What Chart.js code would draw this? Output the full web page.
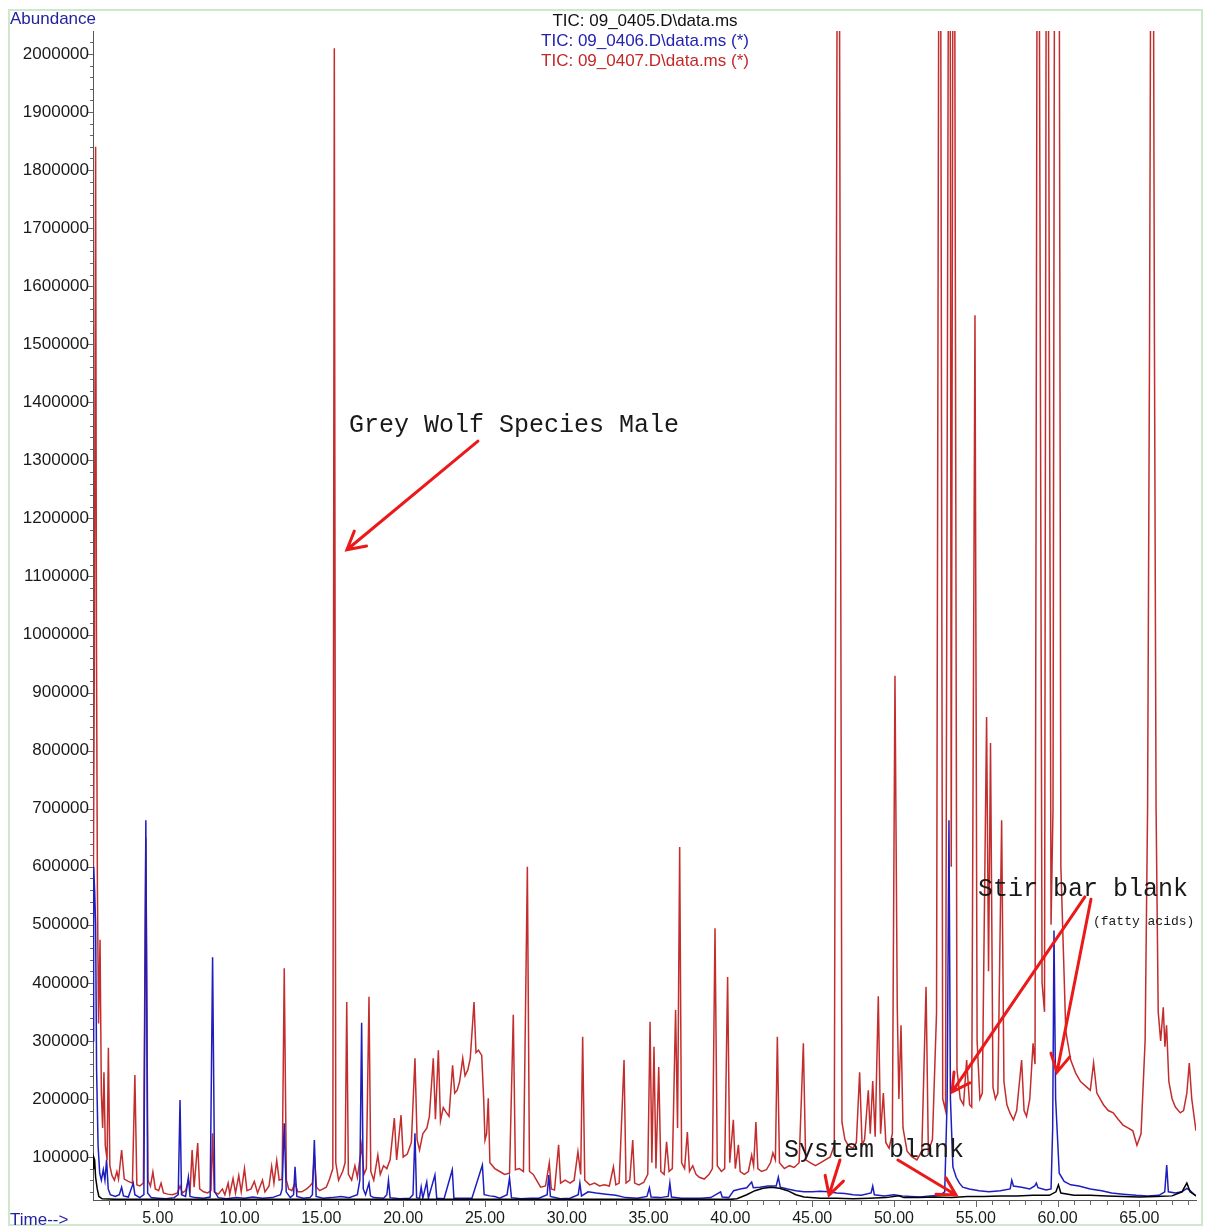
<!DOCTYPE html>
<html>
<head>
<meta charset="utf-8">
<script src="https://cdn.jsdelivr.net/npm/chart.js@4.4.1/dist/chart.umd.min.js"></script>
<style>
  html, body { margin: 0; padding: 0; background: #fff; }
  canvas { display: block; }
</style>
</head>
<body>
<canvas id="tic-chart" width="1208" height="1228"></canvas>
<script>
// Retention time (min) and abundance
const redTime = [
  1.04, 1.12, 1.20, 1.25, 1.31, 1.38, 1.47, 1.55, 1.63, 1.71, 1.79, 1.90, 1.98, 2.07, 2.2, 2.35, 2.5, 2.6, 2.79, 2.95,
  3.2, 3.45, 3.60, 3.72, 3.9, 4.12, 4.27, 4.40, 4.55, 4.70, 4.85, 5.05, 5.20, 5.35, 5.6, 5.9, 6.2, 6.36, 6.5, 6.7,
  6.87, 6.98, 7.10, 7.22, 7.44, 7.56, 7.8, 8.05, 8.25, 8.35, 8.45, 8.7, 8.95, 9.1, 9.30, 9.4, 9.60, 9.75, 9.95, 10.1,
  10.3, 10.45, 10.7, 10.9, 11.1, 11.4, 11.55, 11.8, 11.96, 12.1, 12.27, 12.42, 12.6, 12.73, 12.86, 13.0, 13.2, 13.39, 13.55, 13.8,
  14.1, 14.3, 14.45, 14.57, 14.7, 14.9, 15.1, 15.3, 15.5, 15.7, 15.79, 15.88, 16.05, 16.3, 16.45, 16.55, 16.65, 16.85, 17.05, 17.2,
  17.35, 17.46, 17.6, 17.75, 17.91, 18.02, 18.2, 18.45, 18.6, 18.8, 19.0, 19.2, 19.46, 19.6, 19.87, 20.0, 20.25, 20.5, 20.72, 20.85,
  21.0, 21.2, 21.45, 21.6, 21.84, 21.97, 22.15, 22.28, 22.45, 22.6, 22.8, 23.02, 23.15, 23.3, 23.45, 23.64, 23.78, 23.95, 24.1, 24.33,
  24.45, 24.6, 24.8, 24.92, 25.0, 25.1, 25.2, 25.3, 25.6, 25.9, 26.2, 26.5, 26.73, 26.86, 27.1, 27.35, 27.59, 27.72, 27.95, 28.15,
  28.4, 28.7, 28.93, 29.05, 29.25, 29.5, 29.62, 29.9, 30.2, 30.45, 30.68, 30.85, 30.97, 31.1, 31.4, 31.7, 32.0, 32.3, 32.6, 32.85,
  33.0, 33.2, 33.5, 33.62, 33.85, 34.03, 34.15, 34.4, 34.7, 34.95, 35.09, 35.2, 35.33, 35.45, 35.62, 35.75, 35.95, 36.1, 36.25, 36.45,
  36.65, 36.77, 36.9, 37.02, 37.2, 37.37, 37.5, 37.7, 37.9, 38.1, 38.4, 38.7, 38.9, 39.06, 39.2, 39.45, 39.65, 39.83, 39.96, 40.18,
  40.3, 40.49, 40.6, 40.85, 41.1, 41.3, 41.42, 41.56, 41.68, 41.9, 42.2, 42.45, 42.6, 42.75, 42.87, 43.0, 43.3, 43.6, 43.9, 44.2,
  44.46, 44.6, 44.9, 45.2, 45.5, 45.8, 46.1, 46.35, 46.6, 46.82, 47.0, 47.2, 47.5, 47.7, 47.9, 48.05, 48.2, 48.43, 48.55, 48.7,
  48.85, 49.04, 49.18, 49.35, 49.5, 49.7, 49.9, 50.06, 50.2, 50.3, 50.43, 50.55, 50.8, 51.1, 51.4, 51.7, 51.96, 52.1, 52.35, 52.6,
  52.8, 52.98, 53.15, 53.4, 53.5, 53.65, 53.85, 54.05, 54.25, 54.44, 54.62, 54.75, 54.95, 55.08, 55.25, 55.4, 55.66, 55.78, 55.9, 56.05,
  56.2, 56.35, 56.58, 56.72, 56.9, 57.1, 57.3, 57.5, 57.8, 57.95, 58.1, 58.3, 58.5, 58.62, 58.8, 59.05, 59.2, 59.35, 59.6, 59.72,
  59.86, 59.95, 60.05, 60.2, 60.5, 60.8, 61.1, 61.4, 61.8, 62.0, 62.2, 62.4, 62.8, 63.1, 63.4, 63.7, 64.0, 64.3, 64.6, 64.85,
  65.1, 65.35, 65.5, 65.62, 65.78, 65.92, 66.02, 66.15, 66.3, 66.46, 66.56, 66.66, 66.8, 67.0, 67.2, 67.5, 67.7, 67.9, 68.05, 68.2,
  68.46
];
const redAbund = [
  420000, 950000, 1840000, 1000000, 560000, 330000, 474000, 210000, 150000, 246000, 120000, 95000, 288000, 85000, 68000, 60000, 75000, 62000, 112000, 62000,
  58000, 55000, 241000, 52000, 50000, 55000, 650000, 60000, 50000, 74000, 45000, 42000, 55000, 38000, 36000, 35000, 38000, 50000, 38000, 42000,
  60000, 45000, 112000, 48000, 124000, 45000, 40000, 38000, 42000, 141000, 40000, 36000, 45000, 35000, 55000, 36000, 63000, 38000, 68000, 40000,
  80000, 42000, 45000, 58000, 38000, 60000, 40000, 50000, 84000, 55000, 94000, 60000, 62000, 425000, 60000, 45000, 42000, 55000, 40000, 40000,
  45000, 50000, 55000, 103000, 48000, 42000, 45000, 48000, 62000, 80000, 2010000, 90000, 60000, 75000, 90000, 367000, 70000, 60000, 85000, 65000,
  95000, 120000, 70000, 80000, 376000, 75000, 60000, 103000, 70000, 85000, 80000, 95000, 167000, 95000, 172000, 100000, 105000, 125000, 270000, 130000,
  112000, 140000, 150000, 170000, 270000, 165000, 284000, 162000, 185000, 178000, 170000, 258000, 210000, 215000, 230000, 270000, 240000, 250000, 270000, 367000,
  280000, 284000, 275000, 200000, 129000, 140000, 201000, 90000, 80000, 75000, 70000, 72000, 345000, 78000, 80000, 75000, 600000, 75000, 70000, 60000,
  48000, 50000, 90000, 45000, 43000, 121000, 55000, 60000, 55000, 60000, 109000, 70000, 307000, 60000, 52000, 55000, 50000, 52000, 50000, 83000,
  52000, 55000, 267000, 55000, 60000, 129000, 55000, 52000, 56000, 70000, 333000, 90000, 290000, 80000, 255000, 75000, 70000, 126000, 75000, 80000,
  353000, 150000, 634000, 90000, 80000, 143000, 75000, 85000, 70000, 65000, 62000, 70000, 80000, 494000, 85000, 75000, 80000, 410000, 90000, 164000,
  80000, 121000, 75000, 70000, 75000, 103000, 85000, 160000, 80000, 75000, 78000, 90000, 107000, 95000, 307000, 90000, 80000, 85000, 82000, 90000,
  296000, 95000, 90000, 85000, 90000, 95000, 100000, 120000, 3000000, 160000, 130000, 120000, 115000, 125000, 246000, 120000, 130000, 215000, 140000, 231000,
  135000, 377000, 140000, 210000, 125000, 115000, 140000, 929000, 358000, 200000, 327000, 150000, 110000, 100000, 95000, 110000, 393000, 110000, 130000, 348000,
  3000000, 200000, 180000, 3000000, 600000, 3000000, 250000, 200000, 190000, 267000, 190000, 186000, 1550000, 300000, 200000, 210000, 858000, 420000, 813000, 220000,
  200000, 210000, 680000, 230000, 190000, 175000, 164000, 180000, 267000, 180000, 170000, 200000, 296000, 260000, 3000000, 400000, 350000, 3000000, 500000, 700000,
  3000000, 2400000, 3000000, 600000, 317000, 267000, 245000, 230000, 220000, 215000, 262000, 210000, 190000, 180000, 176000, 165000, 155000, 150000, 145000, 120000,
  140000, 300000, 700000, 1500000, 3000000, 1500000, 700000, 350000, 300000, 358000, 290000, 327000, 230000, 200000, 186000, 176000, 180000, 210000, 262000, 200000,
  145000
];

const blueTime = [
  1.04, 1.08, 1.14, 1.2, 1.26, 1.35, 1.45, 1.55, 1.67, 1.77, 1.87, 1.97, 2.1, 2.4, 2.65, 2.79, 2.9, 3.2, 3.5, 3.6,
  3.9, 4.15, 4.27, 4.38, 4.6, 5.0, 5.5, 6.0, 6.25, 6.36, 6.45, 6.7, 6.87, 6.97, 7.3, 7.8, 8.2, 8.35, 8.48, 8.7,
  9.2, 9.8, 10.3, 10.8, 11.4, 12.0, 12.5, 12.6, 12.73, 12.85, 13.1, 13.3, 13.39, 13.5, 13.9, 14.3, 14.45, 14.57, 14.68, 15.1,
  15.6, 16.2, 16.7, 17.2, 17.35, 17.46, 17.56, 17.7, 17.91, 18.0, 18.2, 18.8, 19.0, 19.1, 19.2, 19.8, 20.4, 20.6, 20.72, 20.82,
  21.0, 21.1, 21.2, 21.44, 21.54, 21.94, 22.05, 22.5, 23.0, 23.1, 23.6, 24.2, 24.84, 24.95, 25.3, 25.6, 25.9, 26.35, 26.5, 26.62,
  27.2, 27.8, 28.3, 28.8, 28.9, 29.0, 29.6, 30.2, 30.7, 30.8, 30.9, 31.3, 31.8, 32.4, 33.0, 33.6, 34.3, 34.9, 35.05, 35.15,
  35.7, 36.2, 36.3, 36.4, 37.0, 37.6, 38.2, 38.8, 39.4, 39.5, 39.9, 40.2, 40.6, 41.0, 41.3, 41.4, 41.8, 42.3, 42.8, 42.93,
  43.05, 43.5, 44.0, 44.5, 45.0, 45.5, 46.0, 46.5, 47.0, 47.5, 48.0, 48.6, 48.7, 48.8, 49.4, 50.0, 50.5, 51.0, 51.6, 52.2,
  52.8, 53.1, 53.25, 53.36, 53.45, 53.6, 53.8, 54.0, 54.2, 54.6, 55.2, 55.8, 56.5, 57.1, 57.2, 57.3, 57.8, 58.3, 58.6, 58.7,
  58.8, 59.3, 59.6, 59.7, 59.78, 59.88, 60.1, 60.4, 60.8, 61.3, 62.0, 62.7, 63.3, 64.0, 64.8, 65.5, 66.2, 66.55, 66.67, 66.77,
  67.2, 67.6, 67.9, 68.1, 68.46
];
const blueAbund = [
  300000, 600000, 560000, 500000, 250000, 120000, 72000, 60000, 78000, 60000, 95000, 45000, 35000, 32000, 35000, 48000, 33000, 31000, 55000, 35000,
  30000, 35000, 680000, 38000, 30000, 29000, 28000, 30000, 35000, 198000, 35000, 32000, 65000, 32000, 30000, 29000, 31000, 444000, 40000, 30000,
  28000, 30000, 29000, 31000, 29000, 30000, 35000, 45000, 158000, 40000, 30000, 35000, 83000, 32000, 29000, 30000, 35000, 129000, 32000, 29000,
  30000, 32000, 30000, 35000, 60000, 331000, 45000, 35000, 55000, 33000, 30000, 29000, 35000, 60000, 30000, 28000, 29000, 35000, 141000, 30000,
  29000, 48000, 29000, 57000, 29000, 69000, 29000, 28000, 78000, 29000, 29000, 29000, 86000, 35000, 33000, 32000, 29000, 35000, 64000, 30000,
  28000, 29000, 29000, 35000, 69000, 32000, 28000, 29000, 35000, 55000, 33000, 40000, 38000, 36000, 34000, 30000, 29000, 32000, 47000, 31000,
  30000, 32000, 55000, 31000, 29000, 29000, 29000, 30000, 40000, 31000, 30000, 42000, 45000, 47000, 57000, 47000, 48000, 50000, 50000, 65000,
  48000, 45000, 42000, 40000, 40000, 41000, 40000, 38000, 37000, 35000, 34000, 38000, 50000, 35000, 33000, 35000, 33000, 32000, 31000, 33000,
  34000, 40000, 200000, 680000, 200000, 83000, 65000, 55000, 48000, 45000, 42000, 40000, 42000, 45000, 60000, 50000, 48000, 45000, 50000, 55000,
  47000, 43000, 45000, 150000, 490000, 200000, 72000, 58000, 52000, 50000, 45000, 42000, 38000, 36000, 34000, 33000, 34000, 40000, 86000, 40000,
  38000, 40000, 46000, 42000, 33000
];

const blackTime = [
  1.04, 1.08, 1.14, 1.2, 1.3, 1.4, 1.6, 2.5, 10.0, 20.0, 30.0, 40.0, 40.4, 41.0, 41.5, 42.0, 42.5, 43.0, 43.5, 44.0,
  44.5, 45.5, 46.5, 47.5, 48.5, 49.5, 50.3, 50.6, 51.5, 52.5, 53.5, 54.5, 55.5, 56.5, 57.5, 58.5, 59.5, 59.9, 60.05, 60.2,
  61.0, 62.0, 63.0, 64.0, 65.0, 66.0, 67.0, 67.6, 67.9, 68.1, 68.46
];
const blackAbund = [
  80000, 100000, 95000, 65000, 45000, 32000, 28000, 27000, 27000, 27000, 27000, 27000, 28000, 35000, 42000, 46000, 48000, 46000, 42000, 35000,
  31000, 29000, 29000, 28000, 29000, 30000, 33000, 30000, 30000, 31000, 30000, 32000, 32000, 33000, 33000, 34000, 34000, 40000, 52000, 38000,
  34000, 34000, 33000, 32000, 31000, 32000, 33000, 40000, 55000, 40000, 33000
];

// Axis ticks
const timeTicks = [5, 10, 15, 20, 25, 30, 35, 40, 45, 50, 55, 60, 65];
const abundTicks = [100000, 200000, 300000, 400000, 500000, 600000, 700000, 800000, 900000, 1000000,
  1100000, 1200000, 1300000, 1400000, 1500000, 1600000, 1700000, 1800000, 1900000, 2000000];

const fileNames = ['TIC: 09_0405.D\\data.ms', 'TIC: 09_0406.D\\data.ms (*)', 'TIC: 09_0407.D\\data.ms (*)'];
const seriesColors = ['#000000', 'rgb(30,30,190)', 'rgb(195,45,45)'];

// Hand-drawn notes on the print, placed in time / abundance units
const notes = [
  { text: 'Grey Wolf Species Male', t: 16.69, v: 1349000, size: 25 },
  { text: 'Stir bar blank', t: 55.13, v: 549600, size: 25 },
  { text: '(fatty acids)', t: 62.16, v: 499000, size: 13 },
  { text: 'System blank', t: 43.28, v: 100000, size: 25 }
];
const arrows = [
  { from: [24.57, 1333000], to: [16.56, 1146000] },
  { from: [61.67, 548000], to: [53.55, 212000] },
  { from: [62.04, 544000], to: [59.96, 246000] },
  { from: [46.70, 94800], to: [46.03, 34500] },
  { from: [50.24, 94800], to: [53.79, 34500] }
];

function toPoints(times, values) {
  return times.map((t, i) => ({ x: t, y: values[i] }));
}

const chromPlugin = {
  id: 'chrom',
  beforeDraw(chart) {
    const ctx = chart.ctx;
    ctx.save();
    ctx.fillStyle = '#ffffff';
    ctx.fillRect(0, 0, chart.width, chart.height);
    ctx.strokeStyle = 'rgb(205,232,205)';
    ctx.lineWidth = 2;
    ctx.strokeRect(9, 10, 1193, 1215);
    ctx.restore();
  },
  afterDraw(chart) {
    const ctx = chart.ctx;
    const xs = chart.scales.x;
    const ys = chart.scales.y;
    const area = chart.chartArea;
    ctx.save();

    // tick marks
    ctx.strokeStyle = '#666';
    ctx.lineWidth = 1;
    for (let v = 40000; v <= 2020000; v += 20000) {
      const py = Math.round(ys.getPixelForValue(v)) + 0.5;
      const len = v % 100000 === 0 ? 5 : 3;
      ctx.beginPath();
      ctx.moveTo(area.left - len, py);
      ctx.lineTo(area.left, py);
      ctx.stroke();
    }
    for (let t = 2; t <= 68; t += 1) {
      const px = Math.round(xs.getPixelForValue(t)) + 0.5;
      const len = t % 5 === 0 ? 7 : 5;
      ctx.beginPath();
      ctx.moveTo(px, area.bottom);
      ctx.lineTo(px, area.bottom + len);
      ctx.stroke();
    }

    // file header
    ctx.font = '17px "Liberation Sans", Arial, sans-serif';
    ctx.textAlign = 'center';
    ctx.textBaseline = 'middle';
    fileNames.forEach((name, i) => {
      ctx.fillStyle = i === 0 ? '#111' : (i === 1 ? 'rgb(35,35,175)' : 'rgb(195,40,40)');
      ctx.fillText(name, 645, 21 + i * 20);
    });

    // axis captions
    ctx.textAlign = 'left';
    ctx.fillStyle = 'rgb(35,35,160)';
    ctx.fillText('Abundance', 10, 19);
    ctx.fillText('Time-->', 10, 1220);

    // notes
    ctx.fillStyle = '#1a1a1a';
    ctx.textBaseline = 'alphabetic';
    notes.forEach(n => {
      ctx.font = n.size + 'px "Liberation Mono", "Courier New", monospace';
      ctx.fillText(n.text, xs.getPixelForValue(n.t), ys.getPixelForValue(n.v));
    });

    // red arrows
    ctx.strokeStyle = 'rgb(235,25,25)';
    ctx.lineWidth = 3;
    ctx.lineCap = 'round';
    arrows.forEach(a => {
      const x1 = xs.getPixelForValue(a.from[0]), y1 = ys.getPixelForValue(a.from[1]);
      const x2 = xs.getPixelForValue(a.to[0]), y2 = ys.getPixelForValue(a.to[1]);
      const ang = Math.atan2(y2 - y1, x2 - x1);
      const head = 20;
      ctx.beginPath();
      ctx.moveTo(x1, y1);
      ctx.lineTo(x2, y2);
      ctx.moveTo(x2 - head * Math.cos(ang - 0.5), y2 - head * Math.sin(ang - 0.5));
      ctx.lineTo(x2, y2);
      ctx.lineTo(x2 - head * Math.cos(ang + 0.5), y2 - head * Math.sin(ang + 0.5));
      ctx.stroke();
    });
    ctx.restore();
  }
};

const lineStyle = {
  borderWidth: 1.5,
  pointRadius: 0,
  tension: 0,
  fill: false
};

new Chart(document.getElementById('tic-chart'), {
  type: 'line',
  data: {
    datasets: [
      { ...lineStyle, label: fileNames[0], data: toPoints(blackTime, blackAbund), borderColor: seriesColors[0] },
      { ...lineStyle, label: fileNames[1], data: toPoints(blueTime, blueAbund), borderColor: seriesColors[1] },
      { ...lineStyle, label: fileNames[2], data: toPoints(redTime, redAbund), borderColor: seriesColors[2] }
    ]
  },
  options: {
    responsive: false,
    animation: false,
    devicePixelRatio: 1,
    layout: { padding: { left: 0, right: 12, top: 31, bottom: 0 } },
    plugins: {
      legend: { display: false },
      tooltip: { enabled: false },
      title: { display: false }
    },
    scales: {
      x: {
        type: 'linear',
        min: 1.04,
        max: 68.46,
        afterBuildTicks: scale => { scale.ticks = timeTicks.map(v => ({ value: v })); },
        afterFit: scale => { scale.height = 28; },
        grid: { display: false, drawTicks: false },
        border: { display: true, color: '#555', width: 1 },
        ticks: {
          autoSkip: false,
          maxRotation: 0,
          padding: 9,
          color: '#1a1a1a',
          font: { family: '"Liberation Sans", Arial, sans-serif', size: 16 },
          callback: v => Number(v).toFixed(2)
        }
      },
      y: {
        type: 'linear',
        min: 25900,
        max: 2039600,
        afterBuildTicks: scale => { scale.ticks = abundTicks.map(v => ({ value: v })); },
        afterFit: scale => { scale.width = 93; },
        grid: { display: false, drawTicks: false },
        border: { display: true, color: '#555', width: 1 },
        ticks: {
          autoSkip: false,
          padding: 4,
          color: '#1a1a1a',
          font: { family: '"Liberation Sans", Arial, sans-serif', size: 17 },
          callback: v => String(v)
        }
      }
    }
  },
  plugins: [chromPlugin]
});
</script>
</body>
</html>
